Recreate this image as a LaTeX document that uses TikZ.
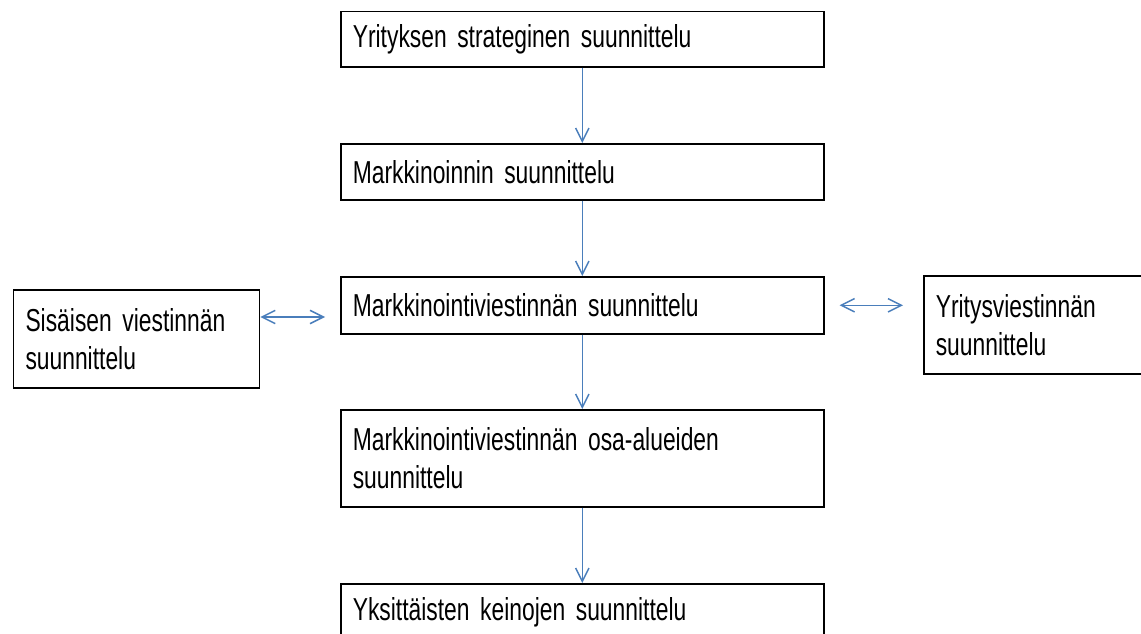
\documentclass[tikz,border=0pt]{standalone}
\usepackage{fontspec}
\setmainfont[FakeStretch=0.72, WordSpace=0.6]{Liberation Sans}
\usetikzlibrary{arrows.meta}
\definecolor{arrblue}{RGB}{74,126,187}
\tikzset{
  box/.style={draw=black, line width=1.2pt, anchor=north west, align=left,
    inner xsep=9pt, inner ysep=0pt, font=\fontsize{23.8}{28.5}\selectfont},
  mainbox/.style={box, minimum width=362.25pt, text width=344.25pt},
  sidebox/.style={box, minimum height=73.5pt},
  arr/.style={draw=arrblue, line width=1.1pt, -{Straight Barb[length=10pt,width=10pt,line width=1.1pt]}},
  darr/.style={draw=arrblue, line width=1.1pt, {Straight Barb[length=10pt,width=10pt,line width=1.1pt]}-{Straight Barb[length=10pt,width=10pt,line width=1.1pt]}}
}
\begin{document}
\begin{tikzpicture}[x=0.75pt,y=-0.75pt]
\useasboundingbox[fill=white] (0,0) rectangle (1141,634);
\node[mainbox, minimum height=41.5pt] (b1) at (340,10.7) {Yrityksen strateginen suunnittelu};
\node[mainbox, minimum height=42pt] (b2) at (340,143) {Markkinoinnin suunnittelu};
\node[mainbox, minimum height=42.75pt] (b3) at (340,276) {Markkinointiviestinnän suunnittelu};
\node[mainbox, minimum height=72.75pt] (b4) at (340,409) {Markkinointiviestinnän osa-alueiden\\suunnittelu};
\node[mainbox, minimum height=42pt] (b5) at (340,583) {Yksittäisten keinojen suunnittelu};
\node[sidebox, minimum width=184.5pt, text width=166.5pt] (sis) at (12.7,289) {Sisäisen viestinnän\\suunnittelu};
\node[sidebox, minimum width=163.3pt, text width=145.3pt] (yv) at (923,275) {Yritysviestinnän\\suunnittelu};
\draw[arr] (b1.south) -- (b2.north);
\draw[arr] (b2.south) -- (b3.north);
\draw[arr] (b3.south) -- (b4.north);
\draw[arr] (b4.south) -- (b5.north);
\coordinate (la) at (325,317);
\draw[darr] (sis.east |- la) -- (la);
\draw[darr, shorten <=11.25pt, shorten >=15pt] (b3.east) -- (b3.east -| yv.west);
\end{tikzpicture}
\end{document}
